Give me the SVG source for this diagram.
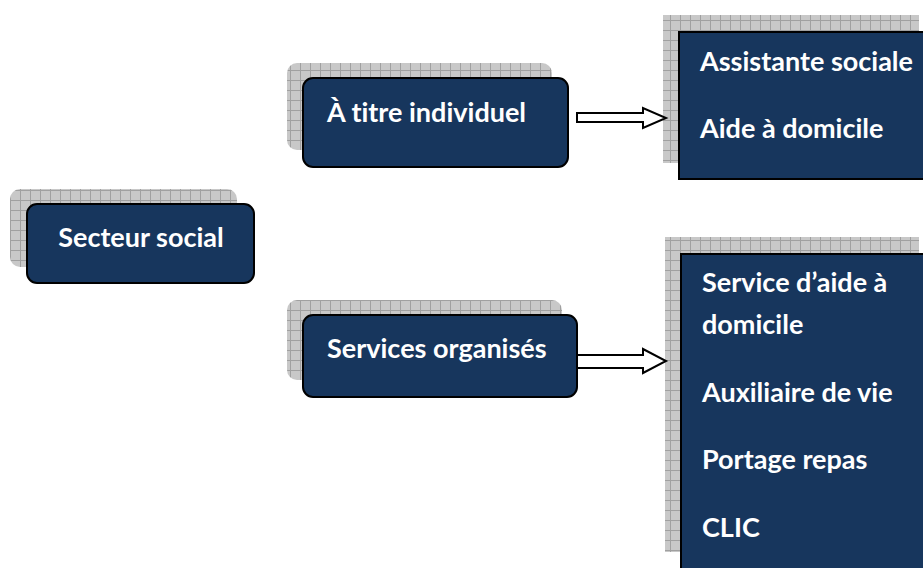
<svg xmlns="http://www.w3.org/2000/svg" width="923" height="568" viewBox="0 0 923 568">
<defs>
<pattern id="grid" width="10" height="10" patternUnits="userSpaceOnUse">
<rect width="10" height="10" fill="#c8c8c8"/>
<path d="M0 0.5H10M0.5 0V10" stroke="#a0a0a0" stroke-width="1" fill="none"/>
</pattern>
<style>
.sh{fill:url(#grid);}
.box{fill:#17365d;stroke:#000;stroke-width:2;}
.t{font-family:Lato,"Open Sans",sans-serif;font-weight:bold;font-size:27px;fill:#fff;font-variant-ligatures:none;}
.arr{fill:#fff;stroke:#000;stroke-width:2;stroke-linejoin:miter;}
</style>
</defs>
<rect width="923" height="568" fill="#fff"/>
<g id="secteur-social">
<rect class="sh" x="10" y="189" width="227" height="78" rx="10"/>
<rect class="box" x="27" y="204" width="227" height="79" rx="10"/>
<text class="t" x="141" y="247" text-anchor="middle">Secteur social</text>
</g>
<g id="titre-individuel">
<rect class="sh" x="287" y="63" width="265" height="87" rx="10"/>
<rect class="box" x="303" y="78" width="265" height="89" rx="10"/>
<text class="t" x="327" y="122">À titre individuel</text>
</g>
<g id="services-organises">
<rect class="sh" x="287" y="300" width="275" height="80" rx="10"/>
<rect class="box" x="303" y="315" width="274" height="82" rx="10"/>
<text class="t" x="327" y="358">Services organisés</text>
</g>
<g id="liste-individuel">
<rect class="sh" x="663" y="15" width="256" height="148"/>
<rect class="box" x="679" y="32" width="250" height="147"/>
<text class="t" x="700" y="71">Assistante sociale</text>
<text class="t" x="700" y="138">Aide à domicile</text>
</g>
<g id="liste-services">
<rect class="sh" x="665" y="237" width="254" height="315"/>
<rect class="box" x="681" y="254" width="250" height="330"/>
<text class="t" x="702" y="292">Service d’aide à</text>
<text class="t" x="702" y="334">domicile</text>
<text class="t" x="702" y="402">Auxiliaire de vie</text>
<text class="t" x="702" y="469">Portage repas</text>
<text class="t" x="702" y="537">CLIC</text>
</g>
<g id="connectors">
<path class="arr" d="M577 113H643V108L666 118L643 128V122H577Z"/>
<path class="arr" d="M577 355H643V349L666 361L643 373V368H577Z"/>
</g>
</svg>
